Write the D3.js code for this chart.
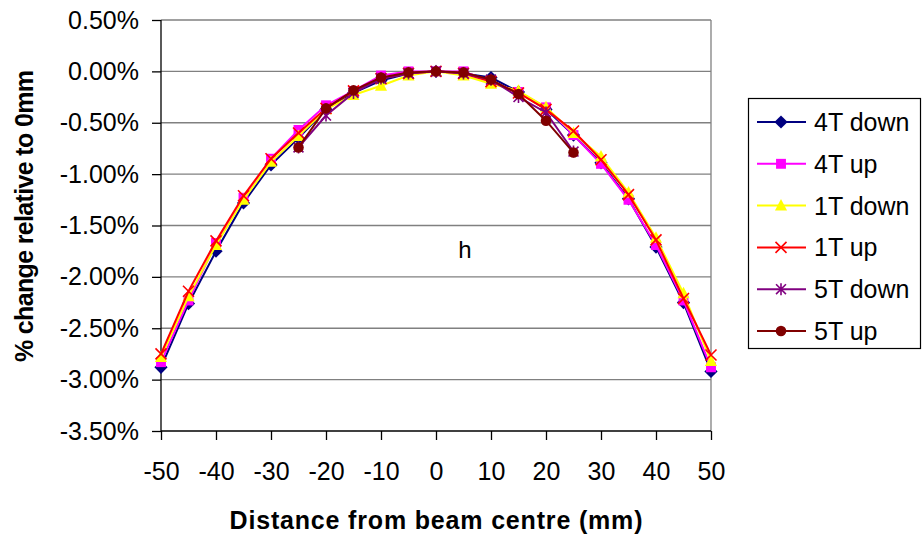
<!DOCTYPE html>
<html><head><meta charset="utf-8">
<script src="https://cdn.jsdelivr.net/npm/d3@7/dist/d3.min.js"></script>
<style>body{margin:0;background:#fff}svg{display:block;font-family:"Liberation Sans",Arial,sans-serif}</style>
</head><body><svg id="c" width="922" height="535"></svg>
<script>
const xFull = [-50,-45,-40,-35,-30,-25,-20,-15,-10,-5,0,5,10,15,20,25,30,35,40,45,50];
const xMid = [-25,-20,-15,-10,-5,0,5,10,15,20,25];
const s4Tdown = [-2.88,-2.26,-1.75,-1.28,-0.91,-0.65,-0.37,-0.21,-0.09,-0.02,0,-0.02,-0.06,-0.20,-0.37,-0.62,-0.89,-1.24,-1.71,-2.25,-2.92];
const s4Tup   = [-2.83,-2.23,-1.67,-1.23,-0.85,-0.57,-0.33,-0.19,-0.04,0.00,0,0.00,-0.10,-0.20,-0.35,-0.62,-0.90,-1.25,-1.69,-2.23,-2.88];
const s1Tdown = [-2.78,-2.19,-1.69,-1.25,-0.88,-0.63,-0.37,-0.23,-0.14,-0.04,0,-0.04,-0.12,-0.19,-0.35,-0.60,-0.83,-1.18,-1.62,-2.16,-2.82];
const s1Tup   = [-2.75,-2.14,-1.65,-1.21,-0.85,-0.60,-0.36,-0.19,-0.07,-0.02,0,-0.02,-0.10,-0.21,-0.37,-0.58,-0.86,-1.20,-1.64,-2.21,-2.76];
const s5Tdown = [-0.74,-0.43,-0.21,-0.07,-0.02,0,-0.02,-0.08,-0.25,-0.40,-0.78];
const s5Tup   = [-0.74,-0.36,-0.185,-0.06,-0.01,0,-0.01,-0.08,-0.22,-0.48,-0.79];
const seriesNames = ["4T down","4T up","1T down","1T up","5T down","5T up"];
const seriesColors = ["#000080","#FF00FF","#FFFF00","#FF0000","#800080","#800000"];
const seriesMarkers = ["diamond","square","triangle","x","asterisk","circle"];
const yTicks = [0.5,0,-0.5,-1,-1.5,-2,-2.5,-3,-3.5];
const xTicks = [-50,-40,-30,-20,-10,0,10,20,30,40,50];
const xTitle = "Distance from beam centre (mm)";
const yTitle = "% change relative to 0mm";
const annotation = "h";

const series = [
  {x:xFull, y:s4Tdown},{x:xFull, y:s4Tup},{x:xFull, y:s1Tdown},
  {x:xFull, y:s1Tup},{x:xMid, y:s5Tdown},{x:xMid, y:s5Tup}
].map((s,i)=>({name:seriesNames[i], color:seriesColors[i], marker:seriesMarkers[i],
  pts:s.x.map((xv,j)=>({x:xv,y:s.y[j]}))}));

const svg = d3.select("#c");
const L=161, R=711, T=20, B=431;
const x = d3.scaleLinear().domain([-50,50]).range([L,R]);
const y = d3.scaleLinear().domain([-3.5,0.5]).range([B,T]);

const loc = d3.formatLocale({decimal:".", thousands:",", grouping:[3], currency:["",""], minus:"-"});

// gridlines
svg.append("g").selectAll("line").data(yTicks.filter(v=>v>-3.5)).join("line")
  .attr("x1",L).attr("x2",R).attr("y1",d=>y(d)).attr("y2",d=>y(d))
  .attr("stroke","#808080").attr("stroke-width",1.3);
// right border
svg.append("line").attr("x1",R).attr("x2",R).attr("y1",T).attr("y2",B)
  .attr("stroke","#808080").attr("stroke-width",1.3);

// axes
const fmt = d=>loc.format(".2f")(d)+"%";
const yAxis = d3.axisLeft(y).tickValues(yTicks).tickFormat(fmt).tickSize(9).tickPadding(13);
const gy = svg.append("g").attr("transform",`translate(${L},0)`).call(yAxis);
const xAxis = d3.axisBottom(x).tickValues(xTicks).tickFormat(loc.format("d")).tickSize(9).tickPadding(22);
const gx = svg.append("g").attr("transform",`translate(0,${B})`).call(xAxis);
[gx,gy].forEach(g=>{
  g.select(".domain").attr("stroke","#000").attr("stroke-width",1.3);
  g.selectAll(".tick line").attr("stroke","#000").attr("stroke-width",1.3);
  g.selectAll("text").attr("font-size",25).attr("fill","#000").attr("font-family","Liberation Sans, Arial, sans-serif");
});
gx.select(".domain").attr("d",`M${L},0H${R}`);
gy.select(".domain").attr("d",`M0,${B}V${T}`);

// markers
function marker(g, type, color, size){
  const s = size;
  if(type==="diamond") g.append("path").attr("d",`M0,${-s*0.6}L${s*0.6},0L0,${s*0.6}L${-s*0.6},0Z`).attr("fill",color);
  else if(type==="square") g.append("rect").attr("x",-s*0.45).attr("y",-s*0.45).attr("width",s*0.9).attr("height",s*0.9).attr("fill",color);
  else if(type==="triangle") g.append("path").attr("d",`M0,${-s*0.6}L${s*0.55},${s*0.45}L${-s*0.55},${s*0.45}Z`).attr("fill",color);
  else if(type==="x") g.append("path").attr("d",`M${-s*0.5},${-s*0.5}L${s*0.5},${s*0.5}M${-s*0.5},${s*0.5}L${s*0.5},${-s*0.5}`).attr("stroke",color).attr("stroke-width",1.6);
  else if(type==="asterisk") g.append("path").attr("d",`M${-s*0.45},${-s*0.45}L${s*0.45},${s*0.45}M${-s*0.45},${s*0.45}L${s*0.45},${-s*0.45}M0,${-s*0.55}L0,${s*0.55}`).attr("stroke",color).attr("stroke-width",1.6);
  else if(type==="circle") g.append("circle").attr("r",s*0.48).attr("fill",color);
}

const line = d3.line().x(d=>x(d.x)).y(d=>y(d.y));
const plot = svg.append("g");
series.forEach(s=>{
  const g = plot.append("g");
  g.append("path").datum(s.pts).attr("d",line).attr("fill","none").attr("stroke",s.color).attr("stroke-width",2);
  s.pts.forEach(p=>{
    const m = g.append("g").attr("transform",`translate(${x(p.x)},${y(p.y)})`);
    marker(m, s.marker, s.color, 11);
  });
});

// annotation
svg.append("text").attr("x",465).attr("y",258).attr("text-anchor","middle")
  .attr("font-size",24).text(annotation);

// axis titles
svg.append("text").attr("x",436).attr("y",529).attr("text-anchor","middle")
  .attr("font-size",25).attr("font-weight","bold").attr("textLength",413).attr("lengthAdjust","spacing").text(xTitle);
svg.append("text").attr("transform","translate(33,216) rotate(-90)").attr("text-anchor","middle")
  .attr("font-size",25).attr("font-weight","bold").attr("textLength",292).attr("lengthAdjust","spacing").text(yTitle);

// legend
const lg = svg.append("g");
lg.append("rect").attr("x",748.5).attr("y",98.5).attr("width",172).attr("height",250)
  .attr("fill","#fff").attr("stroke","#000").attr("stroke-width",1.2);
const ly = d3.scalePoint().domain(seriesNames).range([122,331]);
series.forEach(s=>{
  const yy = ly(s.name);
  lg.append("line").attr("x1",757).attr("x2",806).attr("y1",yy).attr("y2",yy).attr("stroke",s.color).attr("stroke-width",2);
  const m = lg.append("g").attr("transform",`translate(781,${yy})`);
  marker(m, s.marker, s.color, 11);
  lg.append("text").attr("x",814).attr("y",yy+9).attr("font-size",25).text(s.name);
});
</script></body></html>
